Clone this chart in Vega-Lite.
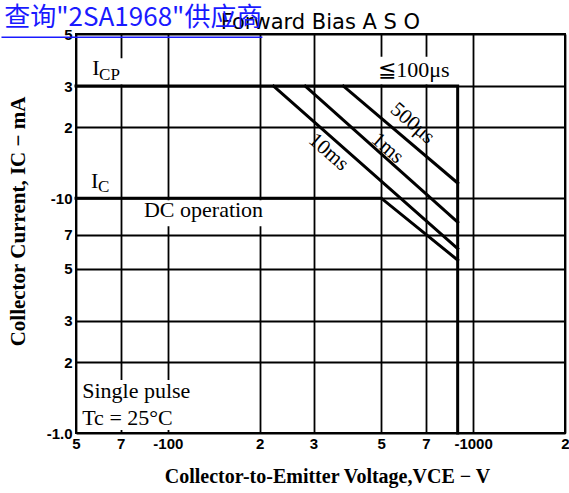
{
  "$schema": "https://vega.github.io/schema/vega-lite/v6.json",
  "width": 489,
  "height": 399,
  "autosize": {"type": "none"},
  "padding": {"left": 76, "top": 34, "right": 4, "bottom": 60},
  "background": "white",
  "config": {"view": {"stroke": "black", "strokeWidth": 2}},
  "datasets": {
    "lines": [
      {"series": "ICP", "i": 0, "x": 5, "y": 30},
      {"series": "ICP", "i": 1, "x": 89, "y": 30},
      {"series": "ICP", "i": 2, "x": 89, "y": 1},
      {"series": "DC", "i": 0, "x": 5, "y": 10},
      {"series": "DC", "i": 1, "x": 50, "y": 10},
      {"series": "DC", "i": 2, "x": 89, "y": 5.45},
      {"series": "10ms", "i": 0, "x": 22.2, "y": 30},
      {"series": "10ms", "i": 1, "x": 89, "y": 6.1},
      {"series": "1ms", "i": 0, "x": 28.2, "y": 30},
      {"series": "1ms", "i": 1, "x": 89, "y": 7.9},
      {"series": "500us", "i": 0, "x": 37.6, "y": 30},
      {"series": "500us", "i": 1, "x": 89, "y": 11.6}
    ],
    "boxes": [
      {"x": 5.4, "x2": 7.9, "y": 30.5, "y2": 39.4},
      {"x": 47.8, "x2": 88, "y": 30.5, "y2": 40},
      {"x": 8.16, "x2": 22.5, "y": 7.6, "y2": 9.8},
      {"x": 5.12, "x2": 12.8, "y": 1.03, "y2": 1.68}
    ],
    "labels": [
      {"text": "I", "x": 5.65, "y": 33.4},
      {"text": "I", "x": 5.6, "y": 11.03},
      {"text": "DC operation", "x": 8.35, "y": 8.3},
      {"text": "Single pulse", "x": 5.24, "y": 1.41},
      {"text": "Tc = 25°C", "x": 5.24, "y": 1.08}
    ],
    "subs": [
      {"text": "CP", "x": 5.95, "y": 31.8},
      {"text": "C", "x": 5.9, "y": 10.6}
    ],
    "pulse": [
      {"text": "≦100μs", "x": 48.9, "y": 32.7}
    ],
    "rotated": [
      {"text": "10ms", "x": 33.6, "y": 15.7},
      {"text": "1ms", "x": 52.4, "y": 16.3},
      {"text": "500μs", "x": 63.2, "y": 20.8}
    ],
    "heading": [
      {"text": "Forward Bias A S O", "x": 31.6, "y": 52.4}
    ],
    "link": [
      {"text": "查询\"2SA1968\"供应商", "x": 20.4, "y": 53.9}
    ],
    "underline": [
      {"x": 2.85, "x2": 20.4, "y": 48.4}
    ]
  },
  "encoding": {
    "x": {
      "field": "x", "type": "quantitative",
      "scale": {"type": "log", "domain": [5, 200], "nice": false, "zero": false},
      "axis": {
        "values": [5, 7, 10, 20, 30, 50, 70, 100, 200],
        "labelExpr": "datum.value == 10 ? '-100' : datum.value == 100 ? '-1000' : datum.value > 100 ? format(datum.value / 100, 'd') : datum.value > 10 ? format(datum.value / 10, 'd') : format(datum.value, 'd')",
        "grid": true, "gridColor": "black", "gridWidth": 1.8, "gridOpacity": 1,
        "ticks": false, "domain": false,
        "labelFont": "Liberation Sans", "labelFontWeight": "bold", "labelFontSize": 15, "labelColor": "black",
        "labelPadding": 3, "labelOverlap": false, "labelFlush": false, "labelBound": false,
        "title": "Collector-to-Emitter Voltage,VCE − V",
        "titleFont": "Liberation Serif", "titleFontSize": 20, "titleFontWeight": "bold", "titleColor": "black",
        "titleX": 251, "titleY": 49, "titleBaseline": "alphabetic", "titleAlign": "center"
      }
    },
    "y": {
      "field": "y", "type": "quantitative",
      "scale": {"type": "log", "domain": [1, 50], "nice": false, "zero": false},
      "axis": {
        "values": [1, 2, 3, 5, 7, 10, 20, 30, 50],
        "labelExpr": "datum.value == 1 ? '-1.0' : datum.value == 10 ? '-10' : datum.value > 10 ? format(datum.value / 10, 'd') : format(datum.value, 'd')",
        "grid": true, "gridColor": "black", "gridWidth": 1.8, "gridOpacity": 1,
        "ticks": false, "domain": false,
        "labelFont": "Liberation Sans", "labelFontWeight": "bold", "labelFontSize": 15, "labelColor": "black",
        "labelPadding": 4, "labelOverlap": false, "labelFlush": false, "labelBound": false,
        "title": "Collector Current, IC − mA",
        "titleFont": "Liberation Serif", "titleFontSize": 21, "titleFontWeight": "bold", "titleColor": "black",
        "titleX": -58, "titleY": 187, "titleAngle": 270, "titleBaseline": "middle", "titleAlign": "center"
      }
    }
  },
  "layer": [
    {
      "data": {"name": "boxes"},
      "mark": {"type": "rect", "fill": "white", "stroke": null},
      "encoding": {"x2": {"field": "x2"}, "y2": {"field": "y2"}}
    },
    {
      "data": {"name": "lines"},
      "mark": {"type": "line", "color": "black", "strokeWidth": 3, "strokeCap": "square", "strokeJoin": "miter"},
      "encoding": {"detail": {"field": "series"}, "order": {"field": "i", "type": "quantitative"}}
    },
    {
      "data": {"name": "labels"},
      "mark": {"type": "text", "font": "Liberation Serif", "fontSize": 22, "color": "black", "align": "left", "baseline": "alphabetic"},
      "encoding": {"text": {"field": "text"}}
    },
    {
      "data": {"name": "subs"},
      "mark": {"type": "text", "font": "Liberation Serif", "fontSize": 17, "color": "black", "align": "left", "baseline": "alphabetic"},
      "encoding": {"text": {"field": "text"}}
    },
    {
      "data": {"name": "pulse"},
      "mark": {"type": "text", "font": "Liberation Serif", "fontSize": 22, "color": "black", "align": "left", "baseline": "alphabetic"},
      "encoding": {"text": {"field": "text"}}
    },
    {
      "data": {"name": "rotated"},
      "mark": {"type": "text", "font": "Liberation Serif", "fontSize": 21, "color": "black", "align": "center", "baseline": "middle", "angle": 41},
      "encoding": {"text": {"field": "text"}}
    },
    {
      "data": {"name": "heading"},
      "mark": {"type": "text", "font": "DejaVu Sans", "fontSize": 21, "color": "black", "align": "center", "baseline": "alphabetic"},
      "encoding": {"text": {"field": "text"}}
    },
    {
      "data": {"name": "link"},
      "mark": {"type": "text", "font": "Noto Sans CJK SC", "fontSize": 26, "color": "#1a1aff", "align": "right", "baseline": "alphabetic"},
      "encoding": {"text": {"field": "text"}}
    },
    {
      "data": {"name": "underline"},
      "mark": {"type": "rule", "color": "#1a1aff", "strokeWidth": 1.5},
      "encoding": {"x2": {"field": "x2"}}
    }
  ]
}
